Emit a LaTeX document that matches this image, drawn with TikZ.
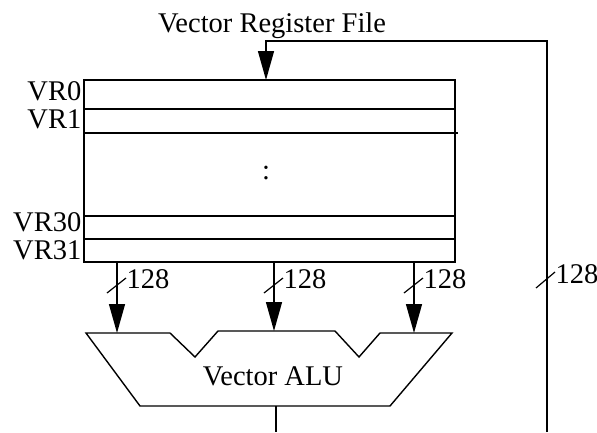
\documentclass[tikz,border=0pt]{standalone}
\usepackage{fontspec}
\setmainfont{Liberation Serif}
\usetikzlibrary{arrows.meta,positioning}

\begin{document}
\begin{tikzpicture}[
    x=1pt, y=-1pt,
    font=\fontsize{28.5}{33}\selectfont,
    line width=1.4pt,
    txt/.style={inner sep=0pt},
    regfile/.style={draw, minimum width=371pt, minimum height=182pt, inner sep=0pt},
    arrow/.style={-{Triangle[length=29pt,width=16pt]}},
    busmark/.style={line width=1.2pt}
  ]
    \useasboundingbox (0,0) rectangle (597,432);

    % register file
    \node[regfile] (rf) at (269.5,171) {};
    \draw (rf.west |- 0,109) -- (rf.east |- 0,109);
    \draw (rf.west |- 0,133) -- (458,133);
    \draw (rf.west |- 0,216) -- (rf.east |- 0,216);
    \draw (rf.west |- 0,239) -- (rf.east |- 0,239);
    \node[txt, anchor=base] (title) at (272,32) {Vector Register File};
    \node[txt, anchor=base east] (vr0) at (82,100) {VR0};
    \node[txt, anchor=base east] (vr1) at (82,128) {VR1};
    \node[txt, anchor=base east] (vr30) at (82,231) {VR30};
    \node[txt, anchor=base east] (vr31) at (82,259) {VR31};
    \node[txt, anchor=base] (dots) at (266,179) {:};

    % vector ALU
    \draw (86,333) -- (170,333) -- (195,357) -- (218,331) -- (335,331)
      -- (359,357) -- (380,333) -- (452,333) -- (390,406) -- (140,406) -- cycle;
    \node[txt, anchor=base] (alulbl) at (273,385) {Vector ALU};
    \coordinate (alua) at (117,333);
    \coordinate (alub) at (274,331);
    \coordinate (aluc) at (414,333);
    \coordinate (aluout) at (276,406);
    \coordinate (resbus) at (276,432);

    % read ports
    \draw[arrow] (rf.south -| alua) -- (alua);
    \draw[arrow] (rf.south -| alub) -- (alub);
    \draw[arrow] (rf.south -| aluc) -- (aluc);
    \draw[busmark] (107,293) -- (126,278);
    \draw[busmark] (264,293) -- (283,278);
    \draw[busmark] (404,293) -- (423,278);
    \node[txt, anchor=base west] (wa) at (126,288) {128};
    \node[txt, anchor=base west] (wb) at (283,288) {128};
    \node[txt, anchor=base west] (wc) at (423,288) {128};

    % result and write back
    \draw (aluout) -- (resbus);
    \coordinate (fbbus) at (547,432);
    \coordinate (fbtop) at (547,41);
    \coordinate (rfin) at (266,80);
    \draw[arrow] (fbbus) -- (fbtop) -| (rfin);
    \draw[busmark] (536,288) -- (555,272);
    \node[txt, anchor=base west] (wfb) at (555,283) {128};
\end{tikzpicture}
\end{document}
